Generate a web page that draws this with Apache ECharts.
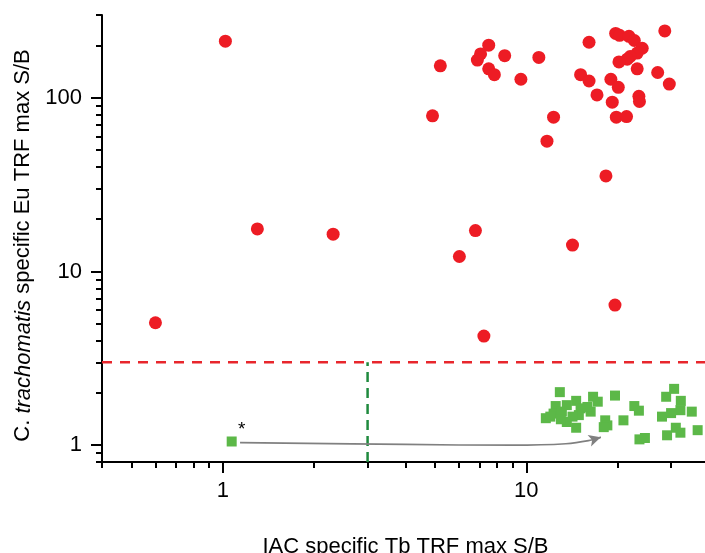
<!DOCTYPE html>
<html>
<head>
<meta charset="utf-8">
<script src="https://cdn.jsdelivr.net/npm/echarts@6/dist/echarts.min.js"></script>
<style>html,body{margin:0;padding:0;background:#fff;}#c{width:705px;height:553px;}</style>
</head>
<body>
<div id="c"></div>
<script>
// Red circles: [IAC Tb TRF S/B, C. trachomatis Eu TRF S/B]
const redX = [5.21,4.91,7.52,7.07,6.90,8.49,7.52,7.85,9.6,11.0,12.3,11.7,16.1,15.1,16.1,17.1,19.0,20.1,19.2,19.8,21.4,23.2,23.5,23.6,27.1,29.6,28.6,19.7,20.3,21.8,22.7,24.1,23.2,22.0,21.5,20.2,6.80,6.02,14.2,18.3,7.25,19.6,1.02,1.30,2.31,0.60];
const redY = [153,78.8,201,179,165,175,147,136,128,171,77.4,56.3,209,136,125,104,128,115,94.4,77.4,78,147,102,95.3,140,120,243,235,229,226,214,193,181,173,167,161,17.2,12.2,14.2,35.5,4.25,6.41,212,17.6,16.4,5.07];
// Green squares
const greenX = [1.07,12.9,19.6,30.7,28.9,32.3,32.2,35.1,30.0,28.0,36.7,31.1,32.2,29.1,22.7,23.5,20.9,23.6,24.6,18.2,18.5,18.0,11.6,12.5,12.3,13.1,13.6,14.6,15.1,14.9,13.6,14.6,16.3,16.6,17.2,15.9,13.0,12.0,14.2];
const greenY = [1.05,2.02,1.93,2.11,1.90,1.80,1.59,1.56,1.53,1.46,1.22,1.26,1.18,1.14,1.68,1.58,1.39,1.08,1.10,1.39,1.30,1.27,1.43,1.68,1.52,1.56,1.70,1.80,1.63,1.49,1.36,1.26,1.56,1.90,1.78,1.66,1.41,1.46,1.46];
// Thresholds
const thresholdY = 3;
const thresholdX = 3;
// Arrow path (annotation)
const arrowX = [1.14, 4, 9, 13.5, 16.4, 17.6];
const arrowY = [1.035, 1.01, 1.0, 1.02, 1.07, 1.11];
// Axis ticks
const xMajor = [1, 10];
const xMinor = [0.4,0.5,0.6,0.7,0.8,0.9,2,3,4,5,6,7,8,9,20,30,40];
const yMajor = [1, 10, 100];
const yMinor = [0.8,0.9,2,3,4,5,6,7,8,9,20,30,40,50,60,70,80,90,200,300];
const xRange = [0.4, 40];
const yRange = [0.8, 300];

const FONT = 'Liberation Sans, Arial, sans-serif';
const chart = echarts.init(document.getElementById('c'), null, {renderer: 'canvas'});

function xAx(major) {
  return {
    type: 'log', logBase: 10, min: xRange[0], max: xRange[1], position: 'bottom', gridIndex: 0,
    axisLine: {show: major, onZero: false, lineStyle: {color: '#000', width: 2}},
    axisTick: {show: true, inside: false, length: major ? 11 : 6, customValues: major ? xMajor : xMinor, lineStyle: {color: '#000', width: 2}},
    axisLabel: {show: major, customValues: xMajor, margin: 18, color: '#000', fontSize: 22, fontFamily: FONT},
    splitLine: {show: false}, minorTick: {show: false},
    name: major ? 'IAC specific Tb TRF max S/B' : '', nameLocation: 'middle', nameGap: 74,
    nameTextStyle: {color: '#000', fontSize: 22, fontFamily: FONT}
  };
}
function yAx(major) {
  return {
    type: 'log', logBase: 10, min: yRange[0], max: yRange[1], position: 'left', gridIndex: 0,
    axisLine: {show: major, onZero: false, lineStyle: {color: '#000', width: 2}},
    axisTick: {show: true, inside: false, length: major ? 11 : 6, customValues: major ? yMajor : yMinor, lineStyle: {color: '#000', width: 2}},
    axisLabel: {show: major, customValues: yMajor, margin: 20, color: '#000', fontSize: 22, fontFamily: FONT},
    splitLine: {show: false}, minorTick: {show: false},
    name: major ? 'C. {i|trachomatis} specific Eu TRF max S/B' : '', nameLocation: 'middle', nameGap: 67, nameRotate: 90,
    nameTextStyle: {color: '#000', fontSize: 22, fontFamily: FONT, padding: [0, 14, 0, 0],
      rich: {i: {fontStyle: 'italic', color: '#000', fontSize: 22, fontFamily: FONT}}}
  };
}

const redData = redX.map((x, i) => [x, redY[i]]);
const greenData = greenX.map((x, i) => {
  const d = {value: [x, greenY[i]]};
  if (i === 0) d.label = {show: true, formatter: '*', position: 'inside', offset: [10, -12], color: '#000', fontSize: 19, fontFamily: FONT};
  return d;
});
const arrowData = arrowX.map((x, i) => [x, arrowY[i]]);
const n = arrowX.length;

chart.setOption({
  animation: false,
  backgroundColor: '#ffffff',
  grid: {left: 102, top: 15, width: 607, height: 447, containLabel: false, outerBoundsMode: 'none'},
  xAxis: [xAx(true), xAx(false)],
  yAxis: [yAx(true), yAx(false)],
  series: [
    {type: 'line', xAxisIndex: 0, yAxisIndex: 0, symbol: 'none', silent: true,
     data: [[xRange[0], thresholdY], [xRange[1], thresholdY]],
     lineStyle: {color: '#e8262c', width: 2.5, type: [10, 8]}, z: 1},
    {type: 'line', xAxisIndex: 0, yAxisIndex: 0, symbol: 'none', silent: true,
     data: [[thresholdX, yRange[0]], [thresholdX, thresholdY]],
     lineStyle: {color: '#1f8a3e', width: 2.5, type: [10, 6]}, z: 1},
    {type: 'line', xAxisIndex: 0, yAxisIndex: 0, symbol: 'none', silent: true, smooth: 0.4,
     data: arrowData, lineStyle: {color: '#808080', width: 1.6}, z: 2,
     markLine: {silent: true, symbol: ['none', 'arrow'], symbolSize: [9, 12], label: {show: false},
       lineStyle: {color: '#808080', width: 1.6, type: 'solid'},
       data: [[{coord: arrowData[n - 2].map((v, k) => v + (arrowData[n - 1][k] - v) * 0.6)}, {coord: arrowData[n - 1]}]]}},
    {type: 'scatter', name: 'red', xAxisIndex: 0, yAxisIndex: 0, symbol: 'circle', symbolSize: 13,
     itemStyle: {color: '#ed1c24', opacity: 1}, data: redData, z: 3},
    {type: 'scatter', name: 'green', xAxisIndex: 0, yAxisIndex: 0, symbol: 'rect', symbolSize: 10,
     itemStyle: {color: '#5cb848', opacity: 1}, data: greenData, z: 3}
  ]
});
</script>
</body>
</html>
